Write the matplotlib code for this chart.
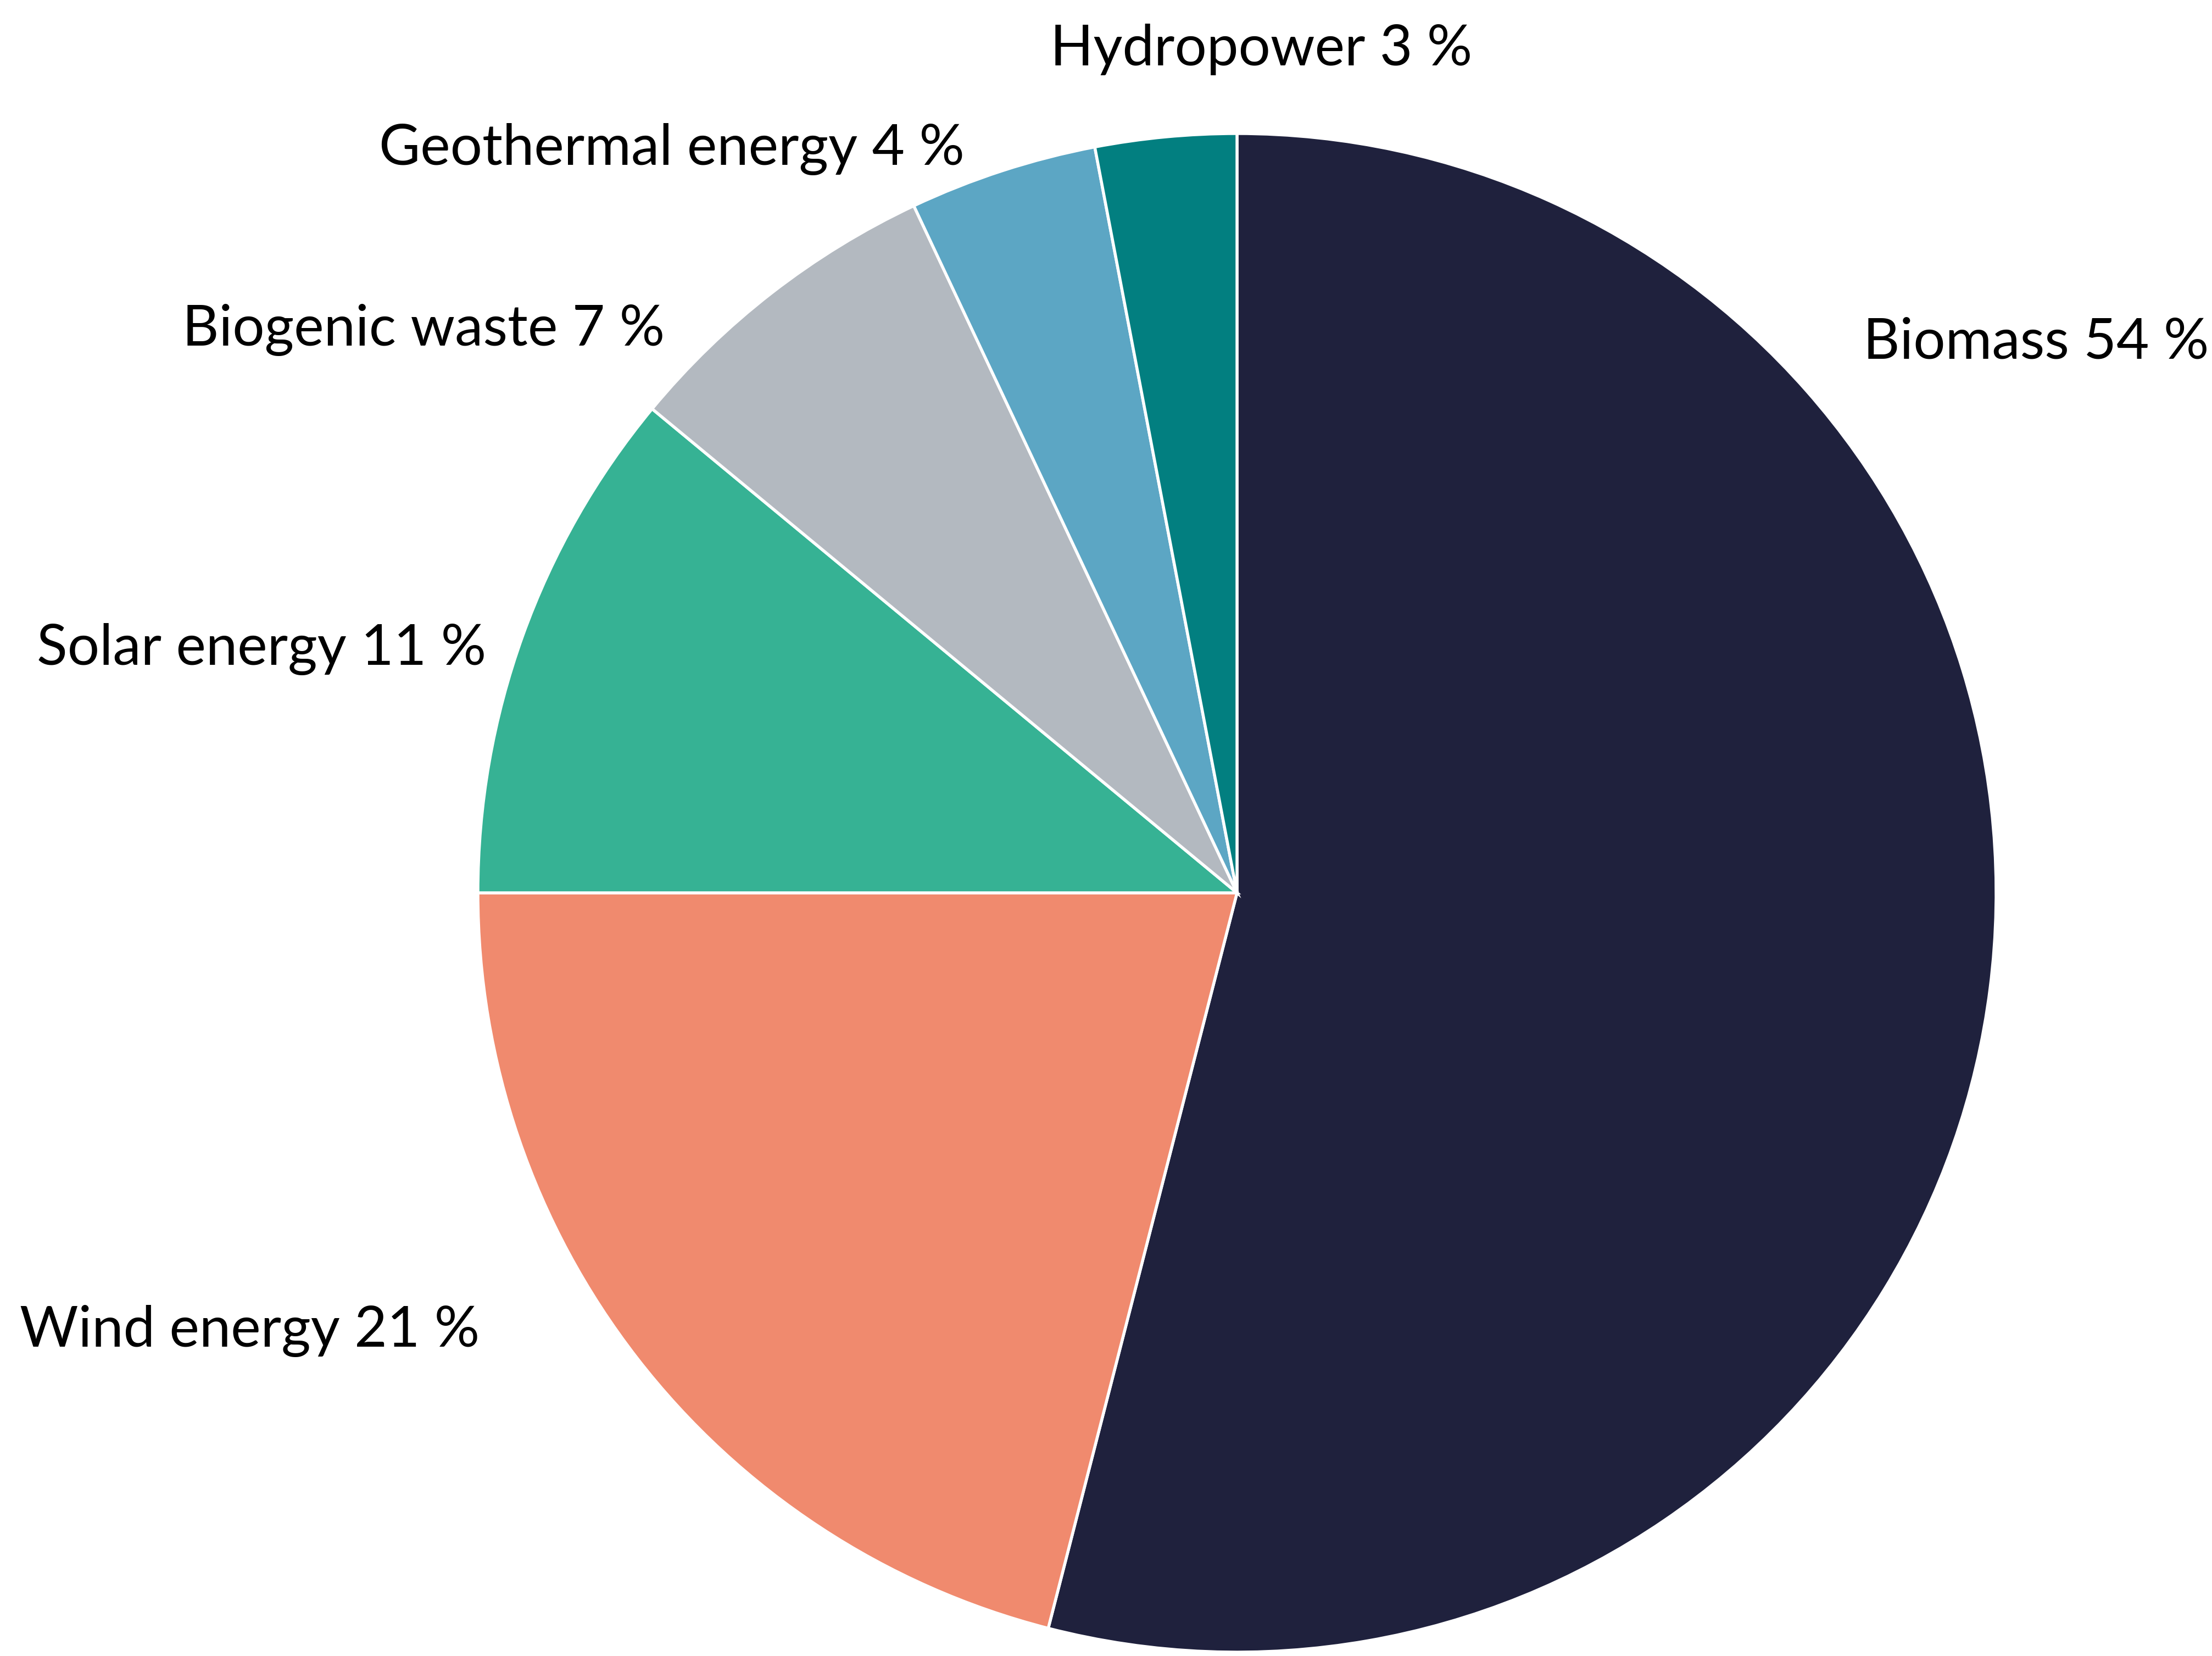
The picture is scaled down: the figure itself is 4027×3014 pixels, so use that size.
"""
Renewable energy shares - pie chart
"""
import matplotlib
matplotlib.use('Agg')
import matplotlib.pyplot as plt

# data
labels = ['Biomass', 'Wind energy', 'Solar energy', 'Biogenic waste',
          'Geothermal energy', 'Hydropower']
shares = [54, 21, 11, 7, 4, 3]
colors = ['#1f213d', '#f08a6e', '#36b294', '#b3b9c0', '#5ca6c4', '#027f80']

# label anchors (unit radius) and alignment
label_pos = [(0.825, 0.704), (-0.998, -0.598), (-0.989, 0.300),
             (-0.754, 0.721), (-0.359, 0.959), (0.032, 1.090)]
label_ha = ['left', 'right', 'right', 'right', 'right', 'center']

plt.rcParams['font.family'] = ['Lato', 'DejaVu Sans']

W, H, DPI = 4028, 3014, 300
fig = plt.figure(figsize=(W / DPI, H / DPI), dpi=DPI)
ax = fig.add_axes([0, 0, 1, 1])

# pie centre and radius in pixels
cx, cy, r = 2252, 1625, 1382

wedges, _ = ax.pie(shares, colors=colors, startangle=90, counterclock=False,
                   radius=1.0, center=(0, 0),
                   wedgeprops=dict(edgecolor='white', linewidth=1.3))

for lab, val, (x, y), ha in zip(labels, shares, label_pos, label_ha):
    ax.text(x, y, f'{lab} {val} %', ha=ha, va='baseline', fontsize=24.7,
            color='black')

ax.set_xlim(-cx / r, (W - cx) / r)
ax.set_ylim(-(H - cy) / r, cy / r)
ax.set_aspect('auto')
ax.axis('off')

plt.savefig('out.png', dpi=DPI)
